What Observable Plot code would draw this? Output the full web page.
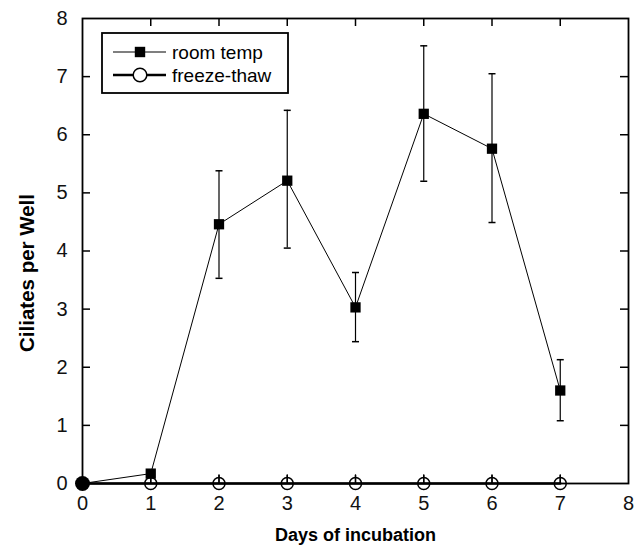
<!DOCTYPE html>
<html><head><meta charset="utf-8">
<script src="https://cdn.jsdelivr.net/npm/d3@7"></script>
<script src="https://cdn.jsdelivr.net/npm/@observablehq/plot@0.6"></script>
<style>
body{margin:0;background:#fff}
#chart{position:relative;width:640px;height:546px}
</style>
</head><body><div id="chart"></div>
<script>
const days = [0, 1, 2, 3, 4, 5, 6, 7];
const roomMean = [0, 0.17, 4.46, 5.21, 3.03, 6.36, 5.76, 1.60];
const roomLow  = [0, 0.17, 3.53, 4.05, 2.44, 5.20, 4.49, 1.08];
const roomHigh = [0, 0.17, 5.38, 6.42, 3.63, 7.53, 7.05, 2.13];
const freezeMean = [0, 0, 0, 0, 0, 0, 0, 0];
const freezeHigh = [0, 0.15, 0.15, 0.15, 0.15, 0.15, 0.15, 0.15];
const xTicks = [0, 1, 2, 3, 4, 5, 6, 7, 8];
const yTicks = [0, 1, 2, 3, 4, 5, 6, 7, 8];
const seriesNames = ["room temp", "freeze-thaw"];
const xTitle = "Days of incubation";
const yTitle = "Ciliates per Well";

const room = days.map((d, i) => ({day: d, mean: roomMean[i], low: roomLow[i], high: roomHigh[i]}));
const freeze = days.map((d, i) => ({day: d, mean: freezeMean[i], high: freezeHigh[i]}));

const W = 640, H = 546, mL = 82, mR = 12, mT = 18, mB = 63;
const pw = W - mL - mR, ph = H - mT - mB;
const tl = 8;
const cap = {draw(ctx, size) { const h = Math.sqrt(size / Math.PI); ctx.moveTo(-h, 0); ctx.lineTo(h, 0); }};
const inner = xTicks.slice(1, -1);
const innerY = yTicks.slice(1, -1);
const font = "Liberation Sans, Arial, sans-serif";

const chart = Plot.plot({
  width: W, height: H,
  marginLeft: mL, marginRight: mR, marginTop: mT, marginBottom: mB,
  style: {fontFamily: font, color: "#111", background: "white"},
  x: {domain: [0, 8]},
  y: {domain: [0, 8]},
  marks: [
    Plot.axisX(xTicks, {tickSize: 0, tickPadding: 12, fontSize: 20, label: null, tickFormat: d3.format("d")}),
    Plot.axisY(yTicks, {tickSize: 0, tickPadding: 15, fontSize: 20, label: null, tickFormat: d3.format("d")}),
    Plot.tickX(inner, {x: d => d, insetTop: ph - tl, stroke: "black", strokeWidth: 1.5}),
    Plot.tickX(inner, {x: d => d, insetBottom: ph - tl, stroke: "black", strokeWidth: 1.5}),
    Plot.tickY(innerY, {y: d => d, insetRight: pw - tl, stroke: "black", strokeWidth: 1.5}),
    Plot.tickY(innerY, {y: d => d, insetLeft: pw - tl, stroke: "black", strokeWidth: 1.5}),
    Plot.frame({stroke: "black", strokeWidth: 1.8}),
    Plot.text([xTitle], {frameAnchor: "bottom", textAnchor: "middle", lineAnchor: "middle", dy: 52, fontWeight: "bold", fontSize: 18, fill: "black"}),
    Plot.text([yTitle], {frameAnchor: "left", textAnchor: "middle", lineAnchor: "middle", dx: -55, dy: 22, rotate: -90, fontWeight: "bold", fontSize: 20.5, fill: "black"}),
    Plot.line(freeze, {x: "day", y: "mean", stroke: "black", strokeWidth: 2.5}),
    Plot.ruleX(freeze.filter(d => d.high > d.mean), {x: "day", y1: "mean", y2: "high", stroke: "black", strokeWidth: 1.2}),
    Plot.dot(freeze.filter(d => d.day > 0), {x: "day", y: "mean", r: 6, stroke: "black", strokeWidth: 1.5, fill: "none"}),
    Plot.line(room, {x: "day", y: "mean", stroke: "black", strokeWidth: 1}),
    Plot.ruleX(room.filter(d => d.high > d.low), {x: "day", y1: "low", y2: "high", stroke: "black", strokeWidth: 1.2}),
    Plot.dot(room.filter(d => d.high > d.low), {x: "day", y: "high", symbol: cap, r: 3.5, stroke: "black", strokeWidth: 1.5, fill: "none"}),
    Plot.dot(room.filter(d => d.high > d.low), {x: "day", y: "low", symbol: cap, r: 3.5, stroke: "black", strokeWidth: 1.5, fill: "none"}),
    Plot.dot(room.filter(d => d.day > 0), {x: "day", y: "mean", symbol: "square", r: 5.8, fill: "black"}),
    Plot.dot(freeze.filter(d => d.day === 0), {x: "day", y: "mean", r: 7.5, fill: "black"})
  ]
});
document.getElementById("chart").appendChild(chart);

// legend inside the plot area (top-left)
const svg = d3.select(chart);
const lg = svg.append("g").attr("transform", "translate(102,33)");
lg.append("rect").attr("width", 186).attr("height", 60).attr("fill", "white").attr("stroke", "black").attr("stroke-width", 1.8);
const rows = [{name: seriesNames[0], y: 19, sw: 1.2, sym: "square"}, {name: seriesNames[1], y: 42, sw: 2.5, sym: "circle"}];
rows.forEach(r => {
  lg.append("line").attr("x1", 11).attr("x2", 64).attr("y1", r.y).attr("y2", r.y).attr("stroke", "black").attr("stroke-width", r.sw);
  if (r.sym === "square") lg.append("rect").attr("x", 38 - 5.2).attr("y", r.y - 5.2).attr("width", 10.4).attr("height", 10.4).attr("fill", "black");
  else lg.append("circle").attr("cx", 38).attr("cy", r.y).attr("r", 6.8).attr("fill", "white").attr("stroke", "black").attr("stroke-width", 1.5);
  lg.append("text").attr("x", 70).attr("y", r.y).attr("dy", "0.35em").attr("text-anchor", "start")
    .attr("font-size", 19).attr("font-family", font).attr("fill", "black").text(r.name);
});
</script>
</body></html>
